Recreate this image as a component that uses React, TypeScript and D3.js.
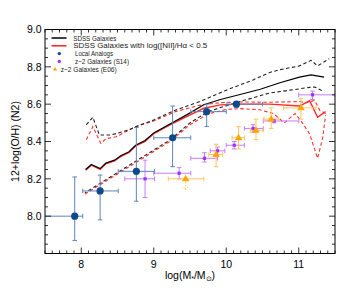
import * as d3 from 'd3'

// SDSS running median and percentile lines, [log M*, 12+log(O/H)]
const sdssMedian: [number, number][] = [
  [8.06, 8.25], [8.14, 8.277], [8.26, 8.255], [8.34, 8.285], [8.46, 8.3], [8.55, 8.325],
  [8.66, 8.345], [8.75, 8.38], [8.88, 8.405], [9.0, 8.446], [9.23, 8.495], [9.46, 8.544],
  [9.69, 8.597], [9.92, 8.625], [10.19, 8.652], [10.47, 8.68], [10.74, 8.715], [11.01, 8.745],
  [11.17, 8.757], [11.35, 8.745],
]
const sdssHigh: [number, number][] = [
  [8.07, 8.49], [8.16, 8.53], [8.25, 8.435], [8.41, 8.435], [8.64, 8.46], [8.82, 8.49],
  [9.0, 8.515], [9.28, 8.565], [9.64, 8.615], [10.0, 8.675], [10.37, 8.73], [10.6, 8.77],
  [10.74, 8.785], [11.01, 8.805], [11.17, 8.835], [11.26, 8.805], [11.42, 8.843],
]
const sdssLow: [number, number][] = [
  [8.05, 8.125], [9.23, 8.41], [9.5, 8.5], [9.75, 8.56], [10.0, 8.592], [10.19, 8.614],
  [10.6, 8.66], [10.88, 8.675], [11.15, 8.69], [11.22, 8.692], [11.33, 8.67],
]
const agnMedian: [number, number][] = [
  [8.06, 8.246], [8.14, 8.273], [8.26, 8.251], [8.34, 8.281], [8.46, 8.296], [8.55, 8.321],
  [8.66, 8.341], [8.75, 8.376], [8.88, 8.401], [9.0, 8.442], [9.23, 8.49], [9.46, 8.535],
  [9.69, 8.578], [9.92, 8.596], [10.19, 8.6], [10.6, 8.6], [11.01, 8.59], [11.15, 8.618],
  [11.26, 8.53], [11.37, 8.56],
]
const agnHigh: [number, number][] = [
  [8.07, 8.41], [8.16, 8.48], [8.27, 8.39], [8.34, 8.415], [8.48, 8.425], [8.75, 8.48],
  [9.0, 8.51], [9.3, 8.56], [9.64, 8.595], [9.92, 8.608], [10.19, 8.612], [10.6, 8.61],
  [11.01, 8.614], [11.1, 8.608], [11.22, 8.62], [11.29, 8.567], [11.37, 8.55],
]
const agnLow: [number, number][] = [
  [8.05, 8.118], [9.23, 8.402], [9.5, 8.49], [9.75, 8.548], [10.0, 8.572], [10.19, 8.576],
  [10.46, 8.57], [10.65, 8.55], [10.8, 8.5], [10.95, 8.55], [11.05, 8.5], [11.15, 8.44],
  [11.26, 8.31], [11.33, 8.42], [11.37, 8.54],
]

// Local analogs
const localMass = [7.91, 8.26, 8.76, 9.26, 9.73, 10.14]
const localOH = [8.0, 8.135, 8.24, 8.42, 8.56, 8.6]
const localMassLo = [7.4, 8.02, 8.51, 9.0, 9.51, 10.01]
const localMassHi = [8.02, 8.51, 9.01, 9.51, 10.0, 10.5]
const localOHLo = [7.87, 7.98, 8.08, 8.265, 8.48, 8.585]
const localOHHi = [8.21, 8.22, 8.475, 8.59, 8.6, 8.612]

// z~2 galaxies (S14)
const s14Mass = [8.88, 9.35, 9.7, 9.88, 10.11, 10.37, 10.66, 11.19]
const s14OH = [8.2, 8.23, 8.31, 8.35, 8.38, 8.47, 8.51, 8.65]
const s14MassLo = [8.6, 9.0, 9.51, 9.78, 10.0, 10.25, 10.51, 11.0]
const s14MassHi = [9.01, 9.51, 9.88, 9.98, 10.25, 10.51, 11.0, 11.5]
const s14OHLo = [8.1, 8.2, 8.29, 8.33, 8.36, 8.45, 8.5, 8.625]
const s14OHHi = [8.3, 8.26, 8.34, 8.37, 8.4, 8.49, 8.52, 8.67]

// z~2 galaxies (E06), first one is an upper limit
const e06Mass = [9.44, 9.86, 10.17, 10.41, 10.62, 11.03]
const e06OH = [8.2, 8.33, 8.42, 8.46, 8.52, 8.58]
const e06MassLo = [9.2, 9.76, 10.08, 10.33, 10.52, 10.79]
const e06MassHi = [9.69, 9.95, 10.25, 10.51, 10.72, 11.24]
const e06OHLo = [8.14, 8.265, 8.36, 8.41, 8.47, 8.52]
const e06OHHi = [8.2, 8.385, 8.48, 8.52, 8.58, 8.63]
const e06Limit = [true, false, false, false, false, false]

const xTicks = [8, 9, 10, 11]
const yTicks = [8.0, 8.2, 8.4, 8.6, 8.8, 9.0]

const legendItems = [
  'SDSS Galaxies',
  'SDSS Galaxies with log([NII]/H\u03b1 < 0.5',
  'Local Analogs',
  'z~2 Galaxies (S14)',
  'z~2 Galaxies (E06)',
]
const legendWidths = [43, 134, 38, 54, 56]

const FONT = "'Liberation Sans', Arial, Helvetica, sans-serif"

export default function App() {
  const width = 362
  const height = 289
  const left = 45, right = 335, top = 29.5, bottom = 253.5

  const x = d3.scaleLinear().domain([7.5, 11.5]).range([left, right])
  const y = d3.scaleLinear().domain([7.8, 9.0]).range([bottom, top])

  const line = d3.line<[number, number]>().x(d => x(d[0])).y(d => y(d[1]))

  const xMinor = d3.range(75, 116).map(v => v / 10)
  const yMinor = d3.range(156, 181).map(v => v / 20)

  const errBars = (mass: number[], oh: number[], mLo: number[], mHi: number[], oLo: number[], oHi: number[], color: string, key: string, limit?: boolean[]) =>
    mass.map((m, i) => {
      const cx = x(m), cy = y(oh[i])
      const cap = 2.3
      return (
        <g key={key + i} stroke={color} strokeWidth={1} fill="none">
          <line x1={x(mLo[i])} x2={x(mHi[i])} y1={cy} y2={cy} />
          <line x1={x(mLo[i])} x2={x(mLo[i])} y1={cy - cap} y2={cy + cap} />
          <line x1={x(mHi[i])} x2={x(mHi[i])} y1={cy - cap} y2={cy + cap} />
          {limit && limit[i] ? (
            <g strokeDasharray="1.5,1.5">
              <line x1={cx} x2={cx} y1={cy} y2={y(oLo[i])} />
              <path d={`M${cx - 2},${y(oLo[i]) - 3}L${cx},${y(oLo[i])}L${cx + 2},${y(oLo[i]) - 3}`} />
            </g>
          ) : (
            <>
              <line x1={cx} x2={cx} y1={y(oLo[i])} y2={y(oHi[i])} />
              <line x1={cx - cap} x2={cx + cap} y1={y(oLo[i])} y2={y(oLo[i])} />
              <line x1={cx - cap} x2={cx + cap} y1={y(oHi[i])} y2={y(oHi[i])} />
            </>
          )}
        </g>
      )
    })

  const tri = (cx: number, cy: number, s: number) =>
    `M${cx},${cy - s}L${cx + s * 0.95},${cy + s * 0.6}L${cx - s * 0.95},${cy + s * 0.6}Z`

  const legendY = [38, 45.8, 53.6, 61.4, 69.2]
  const legendX = [73.3, 73.3, 75, 75, 60.7]

  return (
    <svg width={width} height={height} style={{ position: 'absolute', left: 0, top: 0, background: '#fff' }} fontFamily={FONT}>
      <defs>
        <clipPath id="plot-clip">
          <rect x={left} y={top} width={right - left} height={bottom - top} />
        </clipPath>
      </defs>

      <g clipPath="url(#plot-clip)">
        {/* SDSS lines */}
        <path d={line(agnMedian) ?? ''} fill="none" stroke="#ff2a2a" strokeWidth={1.4} />
        <path d={line(agnHigh) ?? ''} fill="none" stroke="#ff3030" strokeWidth={1.1} strokeDasharray="3.5,2.5" />
        <path d={line(agnLow) ?? ''} fill="none" stroke="#ff3030" strokeWidth={1.1} strokeDasharray="3.5,2.5" />
        <path d={line(sdssMedian) ?? ''} fill="none" stroke="#000" strokeWidth={1.2} />
        <path d={line(sdssHigh) ?? ''} fill="none" stroke="#222" strokeWidth={1.1} strokeDasharray="3.5,2.5" />
        <path d={line(sdssLow) ?? ''} fill="none" stroke="#222" strokeWidth={1.1} strokeDasharray="3.5,2.5" strokeDashoffset={2} />

        {/* error bars */}
        {errBars(s14Mass, s14OH, s14MassLo, s14MassHi, s14OHLo, s14OHHi, '#c77dff', 's')}
        {errBars(e06Mass, e06OH, e06MassLo, e06MassHi, e06OHLo, e06OHHi, '#ffc45e', 'e', e06Limit)}
        {errBars(localMass, localOH, localMassLo, localMassHi, localOHLo, localOHHi, '#5b87b8', 'l')}

        {/* markers */}
        {s14Mass.map((m, i) => (
          <rect key={'sp' + i} x={x(m) - 1.6} y={y(s14OH[i]) - 1.6} width={3.2} height={3.2} fill="#9b30ff" />
        ))}
        {e06Mass.map((m, i) => (
          <path key={'ep' + i} d={tri(x(m), y(e06OH[i]), 4)} fill="#ffa500" />
        ))}
        {localMass.map((m, i) => (
          <circle key={'lp' + i} cx={x(m)} cy={y(localOH[i])} r={3.6} fill="#0e4a8a" />
        ))}
      </g>

      {/* frame */}
      <rect x={left} y={top} width={right - left} height={bottom - top} fill="none" stroke="#000" strokeWidth={1} />

      {/* ticks */}
      <g stroke="#000" strokeWidth={0.8}>
        {xMinor.map(v => {
          const major = Math.abs(v - Math.round(v)) < 1e-6
          const len = major ? 6 : 3
          return (
            <g key={'xt' + v}>
              <line x1={x(v)} x2={x(v)} y1={bottom} y2={bottom - len} />
              <line x1={x(v)} x2={x(v)} y1={top} y2={top + len} />
            </g>
          )
        })}
        {yMinor.map(v => {
          const major = Math.abs(v * 5 - Math.round(v * 5)) < 1e-6
          const len = major ? 6 : 3
          return (
            <g key={'yt' + v}>
              <line x1={left} x2={left + len} y1={y(v)} y2={y(v)} />
              <line x1={right} x2={right - len} y1={y(v)} y2={y(v)} />
            </g>
          )
        })}
      </g>

      {/* tick labels */}
      <g fontSize={10.5} fill="#000">
        {xTicks.map(v => (
          <text key={'xl' + v} x={x(v)} y={268} textAnchor="middle">{v}</text>
        ))}
        {yTicks.map(v => (
          <text key={'yl' + v} x={41.5} y={y(v) + 3.8} textAnchor="end">{v.toFixed(1)}</text>
        ))}
      </g>

      {/* axis titles */}
      <text x={190} y={279} textAnchor="middle" fontSize={10.5}>
        log(M<tspan fontSize={7} dy={2}>*</tspan><tspan dy={-2}>/M</tspan><tspan fontSize={7} dy={2}>{'\u2299'}</tspan><tspan dy={-2}>)</tspan>
      </text>
      <text transform={`translate(19,${(top + bottom) / 2}) rotate(-90)`} textAnchor="middle" fontSize={10.5}>
        12+log(O/H) (N2)
      </text>

      {/* legend */}
      <g fontSize={6.9} fill="#222">
        <line x1={51.5} x2={66.5} y1={legendY[0]} y2={legendY[0]} stroke="#000" strokeWidth={1.5} />
        <line x1={51.5} x2={66.5} y1={legendY[1]} y2={legendY[1]} stroke="#ff2020" strokeWidth={1.5} />
        <circle cx={59.3} cy={legendY[2]} r={1.7} fill="#0e4a8a" />
        <circle cx={59.3} cy={legendY[3]} r={1.7} fill="#9b30ff" />
        <path d={tri(55, legendY[4], 2.3)} fill="#ffa500" />
        {legendItems.map((t, i) => (
          <text key={'lg' + i} x={legendX[i]} y={legendY[i] + 2.6} textLength={legendWidths[i]} lengthAdjust="spacingAndGlyphs">{t}</text>
        ))}
      </g>
    </svg>
  )
}
